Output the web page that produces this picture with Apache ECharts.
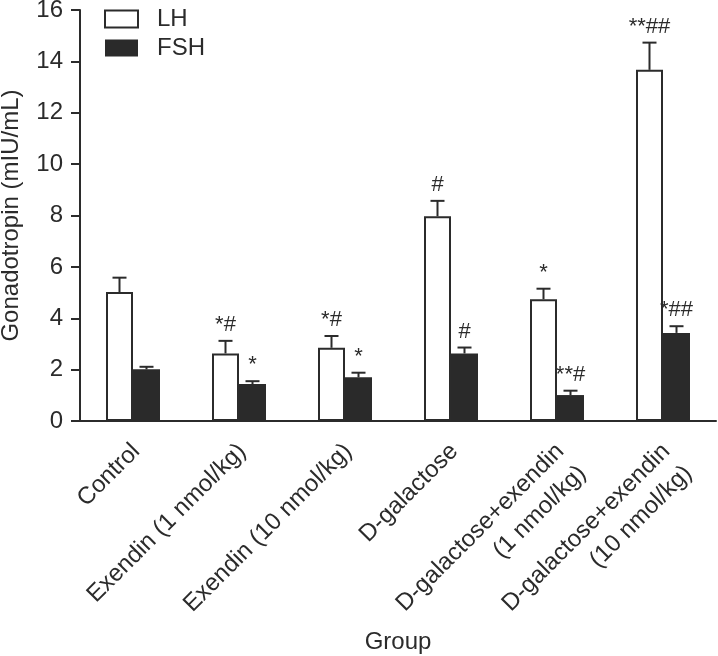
<!DOCTYPE html>
<html>
<head>
<meta charset="utf-8">
<script src="https://cdn.jsdelivr.net/npm/echarts@6/dist/echarts.min.js"></script>
<style>
html,body{margin:0;padding:0;background:#fff;}
#chart{width:718px;height:656px;}
</style>
</head>
<body>
<div id="chart"></div>
<script>
var categories = ['Control', 'Exendin (1 nmol/kg)', 'Exendin (10 nmol/kg)', 'D-galactose', 'D-galactose+exendin\n(1 nmol/kg)', 'D-galactose+exendin\n(10 nmol/kg)'];
var lhValues = [5.02, 2.63, 2.85, 7.97, 4.74, 13.67];
var lhErrors = [0.56, 0.49, 0.46, 0.60, 0.41, 1.06];
var lhMarks = ['', '*#', '*#', '#', '*', '**##'];
var fshValues = [2.01, 1.44, 1.70, 2.63, 1.01, 3.43];
var fshErrors = [0.10, 0.11, 0.18, 0.23, 0.17, 0.26];
var fshMarks = ['', '*', '*', '#', '**#', '*##'];
var yTicks = [0, 2, 4, 6, 8, 10, 12, 14, 16];

var FONT = 'Liberation Sans, Arial, sans-serif';
var INK = '#2b2b2b';
var BAR_W = 27;

function errData(vals, errs) {
  return vals.map(function (v, i) { return [i, v, errs[i]]; });
}

function makeErr(sign, marks) {
  return function (params, api) {
    var idx = api.value(0), v = api.value(1), e = api.value(2);
    var mark = marks[params.dataIndex];
    var base = api.coord([idx, v]);
    var top = api.coord([idx, v + e]);
    var x = base[0] + sign * BAR_W / 2;
    var cap = 7;
    var children = [
      { type: 'line', shape: { x1: x, y1: base[1], x2: x, y2: top[1] }, style: { stroke: INK, lineWidth: 2 } },
      { type: 'line', shape: { x1: x - cap, y1: top[1], x2: x + cap, y2: top[1] }, style: { stroke: INK, lineWidth: 2 } }
    ];
    if (mark) {
      children.push({ type: 'text', x: x, y: top[1] - 5,
        style: { text: mark, fill: INK, font: '22px ' + FONT, align: 'center', verticalAlign: 'bottom' } });
    }
    return { type: 'group', children: children };
  };
}

var chart = echarts.init(document.getElementById('chart'), null, { renderer: 'canvas' });
chart.setOption({
  animation: false,
  backgroundColor: '#fff',
  textStyle: { fontFamily: FONT },
  legend: {
    orient: 'vertical', left: 99, top: 2, itemWidth: 33, itemHeight: 17, itemGap: 5,
    icon: 'rect',
    data: ['LH', 'FSH'],
    textStyle: { fontSize: 24, color: INK, fontFamily: FONT, padding: [0, 0, 0, 14] }
  },
  grid: { left: 80, right: 2, top: 10, bottom: 235, containLabel: false, outerBoundsMode: 'none' },
  xAxis: {
    type: 'category', data: categories,
    name: 'Group', nameLocation: 'middle', nameGap: 209, nameMoveOverlap: false,
    nameTextStyle: { fontSize: 24, color: INK, fontFamily: FONT },
    axisLine: { lineStyle: { color: INK, width: 2 } },
    axisTick: { length: 8, lineStyle: { color: INK, width: 2 } },
    axisLabel: { rotate: 45, fontSize: 24, color: INK, fontFamily: FONT, margin: 8,
      lineHeight: 31, interval: 0, align: 'right', verticalAlign: 'top', padding: [0, 11, 0, 0] }
  },
  yAxis: {
    type: 'value', min: yTicks[0], max: yTicks[yTicks.length - 1], interval: 2,
    name: 'Gonadotropin (mIU/mL)', nameLocation: 'middle', nameGap: 57, nameMoveOverlap: false,
    nameTextStyle: { fontSize: 24, color: INK, fontFamily: FONT },
    axisLine: { show: true, lineStyle: { color: INK, width: 2 } },
    axisTick: { show: true, length: 9, lineStyle: { color: INK, width: 2 } },
    axisLabel: { fontSize: 24, color: INK, fontFamily: FONT, margin: 17 },
    splitLine: { show: false }
  },
  series: [
    { name: 'LH', type: 'bar', data: lhValues, barWidth: BAR_W, barGap: '0%',
      itemStyle: { color: '#fff', borderColor: INK, borderWidth: 2 } },
    { name: 'FSH', type: 'bar', data: fshValues, barWidth: BAR_W, barGap: '0%',
      itemStyle: { color: '#2a2a2a', borderColor: '#2a2a2a', borderWidth: 0 } },
    { name: 'LHerr', type: 'custom', renderItem: makeErr(-1, lhMarks), data: errData(lhValues, lhErrors), z: 3 },
    { name: 'FSHerr', type: 'custom', renderItem: makeErr(1, fshMarks), data: errData(fshValues, fshErrors), z: 3 }
  ]
});
</script>
</body>
</html>
